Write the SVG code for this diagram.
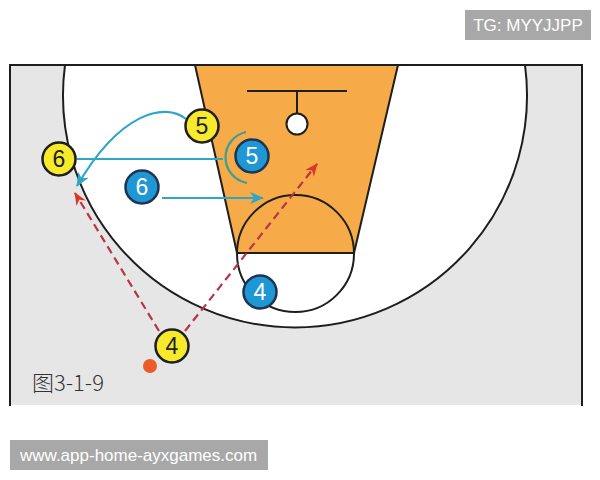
<svg xmlns="http://www.w3.org/2000/svg" width="600" height="480" viewBox="0 0 600 480">
<defs>
<style>
.line{fill:none;stroke:#1e1e1e;stroke-width:2}
.yel{fill:#f7e92c;stroke:#1e1e1e;stroke-width:2.5}
.blu{fill:#1f97d4;stroke:#1c3550;stroke-width:2.5}
.num{font-family:"Liberation Sans",Arial,sans-serif;font-size:23px;text-anchor:middle}
.ny{fill:#222}
.nb{fill:#ffffff}
.teal{fill:none;stroke:#2fa6c6;stroke-width:2.2}
.red{fill:none;stroke:#b8344a;stroke-width:2.2;stroke-dasharray:8 5}
.wm{font-family:"Liberation Sans",Arial,sans-serif;font-size:17px;fill:#ffffff}
</style>
<marker id="ah-teal" viewBox="0 0 14 12" refX="13" refY="6" markerWidth="14" markerHeight="12" orient="auto" markerUnits="userSpaceOnUse">
<path d="M0,0 L14,6 L0,12 L4,6 Z" fill="#2fa6c6" stroke="none"/>
</marker>
<marker id="ah-red" viewBox="0 0 13 11" refX="12" refY="5.5" markerWidth="13" markerHeight="11" orient="auto" markerUnits="userSpaceOnUse">
<path d="M0,0 L13,5.5 L0,11 L4,5.5 Z" fill="#e0342a" stroke="none"/>
</marker>
</defs>
<rect x="0" y="0" width="600" height="480" fill="#ffffff"/>
<g id="court">
<rect x="10" y="65" width="572" height="340" fill="#e6e6e6"/>
<path d="M65,65 A232,232 0 1 0 525,65 Z" fill="#ffffff"/>
<path d="M65,65 A232,232 0 1 0 525,65" class="line"/>
<path d="M195,65 L398,65 L354,253 L237,253 Z" fill="#f6aa48"/>
<path d="M195,65 L237,253 M398,65 L354,253 M237,253 L354,253" class="line"/>
<circle cx="295.5" cy="253.5" r="58.5" class="line"/>
<path d="M247,91 L347,91 M297,91 L297,114" class="line"/>
<circle cx="297" cy="124" r="10.5" fill="#ffffff" stroke="#1e1e1e" stroke-width="2"/>
<path d="M10,65 L582,65 M10,64 L10,406 M582,64 L582,406" class="line"/>
<text x="32" y="391" font-family="'Noto Sans CJK SC','Liberation Sans',sans-serif" font-size="22" fill="#333333" font-weight="300">图3-1-9</text>
</g>
<g id="connectors">
<path d="M186,119 C165,102 120,112 77,186" class="teal" marker-end="url(#ah-teal)"/>
<path d="M77,159 L223,159" class="teal"/>
<path d="M246,132 A26,26 0 0 0 247,183" fill="none" stroke="#3a9f9c" stroke-width="2.2"/>
<path d="M162,198 L263,198" class="teal" marker-end="url(#ah-teal)"/>
<path d="M159,331 L75,193" class="red" marker-end="url(#ah-red)"/>
<path d="M185,331 L317,164" class="red" marker-end="url(#ah-red)"/>
</g>
<g id="y5"><circle cx="202" cy="126" r="16.5" class="yel"/><text x="202" y="134" class="num ny">5</text></g>
<g id="y6"><circle cx="59" cy="159" r="16.5" class="yel"/><text x="59" y="167" class="num ny">6</text></g>
<g id="y4"><circle cx="172" cy="346" r="16.5" class="yel"/><text x="172" y="354" class="num ny">4</text></g>
<g id="b5"><circle cx="252" cy="156" r="16.5" class="blu"/><text x="252" y="164" class="num nb">5</text></g>
<g id="b6"><circle cx="142" cy="187" r="16.5" class="blu"/><text x="142" y="195" class="num nb">6</text></g>
<g id="b4"><circle cx="260" cy="292" r="16.5" class="blu"/><text x="260" y="300" class="num nb">4</text></g>
<g id="ball"><circle cx="150" cy="366" r="7" fill="#ec5a26"/></g>
<g id="wm-tg"><rect x="465" y="10" width="126" height="30" fill="#a8a8a8"/><text x="528" y="31" class="wm" text-anchor="middle">TG: MYYJJPP</text></g>
<g id="wm-url"><rect x="10" y="440" width="258" height="30" fill="#a8a8a8"/><text x="20" y="461" class="wm">www.app-home-ayxgames.com</text></g>
</svg>
